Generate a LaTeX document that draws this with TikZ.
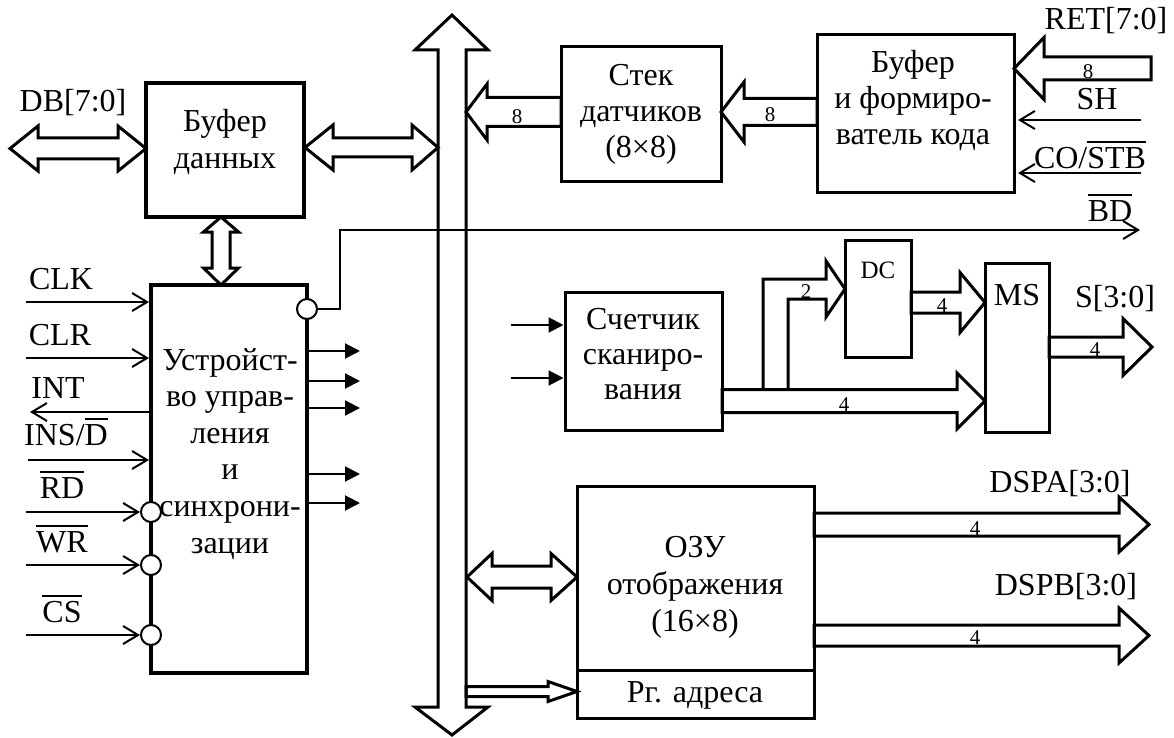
\documentclass[tikz,border=0pt]{standalone}
\usepackage{fontspec}
\setmainfont{Liberation Serif}
\usetikzlibrary{arrows.meta}
\newcommand\ovl[1]{{\setbox0\hbox{#1}\rlap{\raisebox{\dimexpr\ht0+4pt\relax}{\rule{\wd0}{1.6pt}}}\box0}}
% right/left block arrow: tail x, head base x, apex x, y, shaft half, head half
\newcommand\harr[6]{\draw[blk] (#1,#4-#5) -- (#2,#4-#5) -- (#2,#4-#6) -- (#3,#4) -- (#2,#4+#6) -- (#2,#4+#5) -- (#1,#4+#5) -- cycle;}
% horizontal double block arrow: apex1, base1, base2, apex2, y, shaft half, head half
\newcommand\hdarr[7]{\draw[blk] (#1,#5) -- (#2,#5-#7) -- (#2,#5-#6) -- (#3,#5-#6) -- (#3,#5-#7) -- (#4,#5) -- (#3,#5+#7) -- (#3,#5+#6) -- (#2,#5+#6) -- (#2,#5+#7) -- cycle;}
% vertical double block arrow: x, apex1, base1, base2, apex2, shaft half, head half
\newcommand\vdarr[7]{\draw[blk] (#1,#2) -- (#1+#7,#3) -- (#1+#6,#3) -- (#1+#6,#4) -- (#1+#7,#4) -- (#1,#5) -- (#1-#7,#4) -- (#1-#6,#4) -- (#1-#6,#3) -- (#1-#7,#3) -- cycle;}
\tikzset{
  box/.style={draw, line width=3pt, inner sep=0pt},
  bbox/.style={draw, line width=4pt, inner sep=0pt},
  txt/.style={font=\fontsize{32}{36}\selectfont, inner sep=0pt, align=center},
  dig/.style={font=\fontsize{21}{21}\selectfont, inner sep=0pt, anchor=base},
  blk/.style={line width=3pt, line join=miter, miter limit=20},
  sig/.style={line width=2pt, -{Straight Barb[length=15pt,width=18pt,line width=2pt]}},
  fsig/.style={line width=2pt, -{Triangle[length=15pt,width=15pt]}},
  bub/.style={circle, draw, fill=white, line width=2pt, minimum size=20pt, inner sep=0pt}
}
\begin{document}
\begin{tikzpicture}[x=1pt,y=-1pt]
\useasboundingbox (0,0) rectangle (1174,738);

% boxes
\node[bbox, minimum width=158pt, minimum height=134pt] (buf) at (225,150) {};
\node[bbox, minimum width=156pt, minimum height=388pt] (cu) at (229,479) {};
\node[box, minimum width=160pt, minimum height=135pt] (stk) at (641,114.5) {};
\node[box, minimum width=197pt, minimum height=157pt] (bf) at (915.5,113.5) {};
\node[box, minimum width=157pt, minimum height=138pt] (cnt) at (643.5,361) {};
\node[box, minimum width=66pt, minimum height=117pt] (dc) at (878,298.5) {};
\node[box, minimum width=64pt, minimum height=169pt] (ms) at (1017,347.5) {};
\node[box, minimum width=237pt, minimum height=184pt] (ram) at (695.5,578) {};
\node[box, minimum width=237pt, minimum height=48pt] (reg) at (695.5,694) {};

% box texts (base anchor = baseline of the last line)
\node[txt, anchor=base] at (225,168) {Буфер\\данных};
\node[txt, anchor=base, font=\fontsize{32}{36.6}\selectfont] at (230,553) {Устройст-\\во управ-\\ления\\и\\синхрони-\\зации};
\node[txt, anchor=base] at (641,158) {Стек\\датчиков\\(8×8)};
\node[txt, anchor=base] at (913,145) {Буфер\\и формиро-\\ватель кода};
\node[txt, anchor=base, font=\fontsize{32}{35}\selectfont] at (643,399) {Счетчик\\сканиро-\\вания};
\node[txt, anchor=base, font=\fontsize{25}{30}\selectfont] at (878,278) {DC};
\node[txt, anchor=base] at (1017,305) {MS};
\node[txt, anchor=base, font=\fontsize{32}{37}\selectfont] at (695,631) {ОЗУ\\отображения\\(16×8)};
\node[txt, anchor=base] at (695,702) {Рг. адреса};

% vertical bus
\draw[blk] (452,15) -- (488,50) -- (466,50) -- (466,707) -- (488,707) -- (452,735)
  -- (415,707) -- (438,707) -- (438,50) -- (415,50) -- cycle;

% block arrows
\hdarr{10}{38}{118}{146}{148.5}{10.5}{22.5}
\node[txt, anchor=base] at (73,112) {DB[7:0]};
\hdarr{305}{333}{412}{438}{147.5}{9.5}{22.5}
\vdarr{221}{217}{232}{268}{285}{9}{17.5}
\harr{561}{487}{466}{112}{14.5}{28}
\node[dig] at (517,124) {8};
\harr{817}{744}{721}{112}{13.5}{30}
\node[dig] at (770,122) {8};
\harr{1151}{1044}{1014}{68.5}{11.5}{31}
\node[dig] at (1088,79) {8};
\node[txt, anchor=base] at (1106,30) {RET[7:0]};

% counter -> MS and branch to DC
\harr{722}{957}{985}{401}{11.5}{28}
\node[dig] at (844,411) {4};
\draw[blk] (763,389.5) -- (763,279) -- (826,279) -- (826,261) -- (845,289) -- (826,317) -- (826,299) -- (788,299) -- (788,389.5);
\node[dig] at (806,298) {2};
\harr{911}{960}{985}{302.5}{10.5}{30}
\node[dig] at (942,312) {4};
\harr{1049}{1123}{1152}{347}{10}{28.5}
\node[dig] at (1095,356) {4};
\node[txt, anchor=base] at (1115,307) {S[3:0]};

% RAM arrows
\hdarr{467}{492}{551}{577}{577}{11}{23.5}
\harr{466}{548}{577}{691.5}{5}{10}
\harr{814}{1119}{1149}{524.5}{11.5}{27.5}
\node[dig] at (975,535) {4};
\node[txt, anchor=base] at (1060,492) {DSPA[3:0]};
\harr{814}{1119}{1149}{635.5}{10.5}{27.5}
\node[dig] at (975,644) {4};
\node[txt, anchor=base] at (1066,595) {DSPB[3:0]};

% control unit signals
\node[bub] (bBD) at (307,309) {};
\node[bub] (bRD) at (151,512) {};
\node[bub] (bWR) at (151,565) {};
\node[bub] (bCS) at (151,635) {};
\coordinate (clk) at (26,302);
\coordinate (clr) at (26,358);
\coordinate (int) at (30,412);
\coordinate (ins) at (28,460);
\coordinate (rd) at (26,512);
\coordinate (wr) at (26,565);
\coordinate (cs) at (26,635);
\draw[sig] (clk) -- (clk -| cu.west);
\draw[sig] (clr) -- (clr -| cu.west);
\draw[sig] (int -| cu.west) -- (int);
\draw[sig] (ins) -- (ins -| cu.west);
\draw[sig] (rd) -- (bRD.west);
\draw[sig] (wr) -- (bWR.west);
\draw[sig] (cs) -- (bCS.west);
\node[txt, anchor=base] at (61,289) {CLK};
\node[txt, anchor=base] at (60,345) {CLR};
\node[txt, anchor=base] at (58,398) {INT};
\node[txt, anchor=base] at (66,445) {INS/\ovl{D}};
\node[txt, anchor=base] at (62,498) {\ovl{RD}};
\node[txt, anchor=base] at (62,552) {\ovl{WR}};
\node[txt, anchor=base] at (62,622) {\ovl{CS}};

\foreach \yy in {351,381,408,474,503}
  \draw[fsig] (307,\yy) -- (360,\yy);

\coordinate (bdEnd) at (1140,230);
\draw[sig] (bBD.east) -- (340,309) -- (340,230) -- (bdEnd);
\node[txt, anchor=base] at (1110,221) {\ovl{BD}};

% SH, CO/STB
\coordinate (sh) at (1141,120);
\coordinate (co) at (1141,173);
\draw[sig] (sh) -- (1018,120);
\draw[sig] (co) -- (1018,173);
\node[txt, anchor=base] at (1097,110) {SH};
\node[txt, anchor=base] at (1090,168) {CO/\ovl{STB}};

% counter inputs
\draw[fsig] (511,325) -- (cnt.west |- 511,325);
\draw[fsig] (511,378) -- (cnt.west |- 511,378);
\end{tikzpicture}
\end{document}
